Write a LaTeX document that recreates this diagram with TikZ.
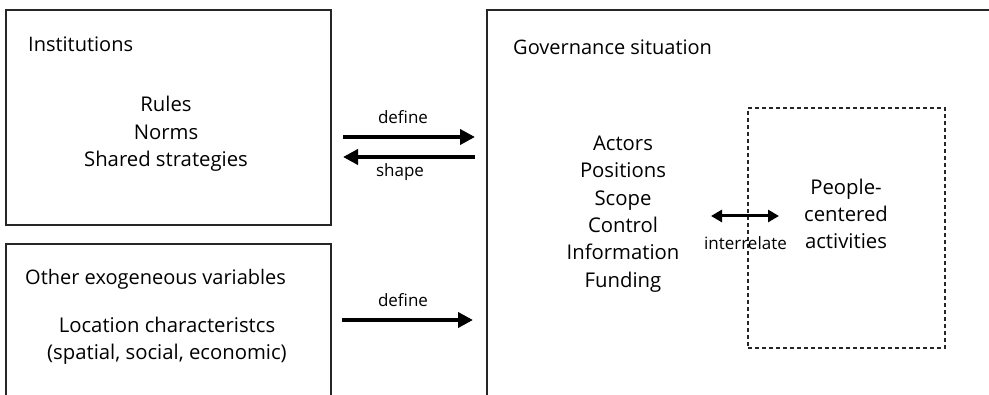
\documentclass[tikz,border=0pt]{standalone}
\usepackage{fontspec}
\setmainfont{Open Sans}
\usetikzlibrary{arrows.meta}
\tikzset{
  box/.style={draw=black!85, line width=1.1pt, inner sep=0pt},
  dbox/.style={draw=black!85, line width=1.1pt, dash pattern=on 4pt off 3pt, inner sep=0pt},
  title/.style={font=\fontsize{20}{26}\selectfont, inner sep=0pt, anchor=base west},
  body/.style={font=\fontsize{20.3}{27.3}\selectfont, align=center, inner sep=0pt},
  lbl/.style={font=\fontsize{17}{20}\selectfont, inner sep=0pt, anchor=base},
  bigarrow/.style={line width=4pt, -{Triangle[length=15pt,width=15pt]}},
  dblarrow/.style={line width=3pt, {Triangle[length=11pt,width=12pt]}-{Triangle[length=11pt,width=12pt]}}
}
\begin{document}
\begin{tikzpicture}[x=1pt,y=-1pt]
\useasboundingbox (0,0) rectangle (989,395);
\fill[white] (0,0) rectangle (989,395);
\clip (0,0) rectangle (989,395);
% boxes
\node[box, minimum width=325pt, minimum height=215pt] (inst) at (168.5,117.5) {};
\node[box, minimum width=325pt, minimum height=180pt] (other) at (168.5,334) {};
\node[box, minimum width=530pt, minimum height=420pt] (gov) at (752,220) {};
\node[dbox, minimum width=197pt, minimum height=240pt] (people) at (846.5,228) {};
% titles
\node[title] (insttitle) at (28,52) {Institutions};
\node[title] (othertitle) at (25,285) {Other exogeneous variables};
\node[title] (govtitle) at (513,55) {Governance situation};
% bodies
\node[body] (insttext) at (166,134) {Rules\\Norms\\Shared strategies};
\node[body] (othertext) at (167,341) {Location characteristcs\\(spatial, social, economic)};
\node[body] (govtext) at (623,214) {Actors\\Positions\\Scope\\Control\\Information\\Funding};
\node[body] (peopletext) at (846,214) {People-\\centered\\activities};
% arrows
\coordinate (d1s) at (343,137);
\coordinate (d1e) at (475,137);
\coordinate (s1s) at (475,157);
\coordinate (s1e) at (343,157);
\coordinate (d2s) at (342,320);
\coordinate (d2e) at (473,320);
\coordinate (ia) at (711,216);
\coordinate (ib) at (779,216);
\draw[bigarrow] (d1s) -- (d1e);
\draw[bigarrow] (s1s) -- (s1e);
\draw[bigarrow] (d2s) -- (d2e);
\draw[dblarrow] (ia) -- (ib);
% labels
\node[lbl] (ldefine1) at (403,124) {define};
\node[lbl] (lshape) at (400,177) {shape};
\node[lbl] (ldefine2) at (403,307) {define};
\node[lbl] (linter) at (745.5,250) {interrelate};
\end{tikzpicture}
\end{document}
